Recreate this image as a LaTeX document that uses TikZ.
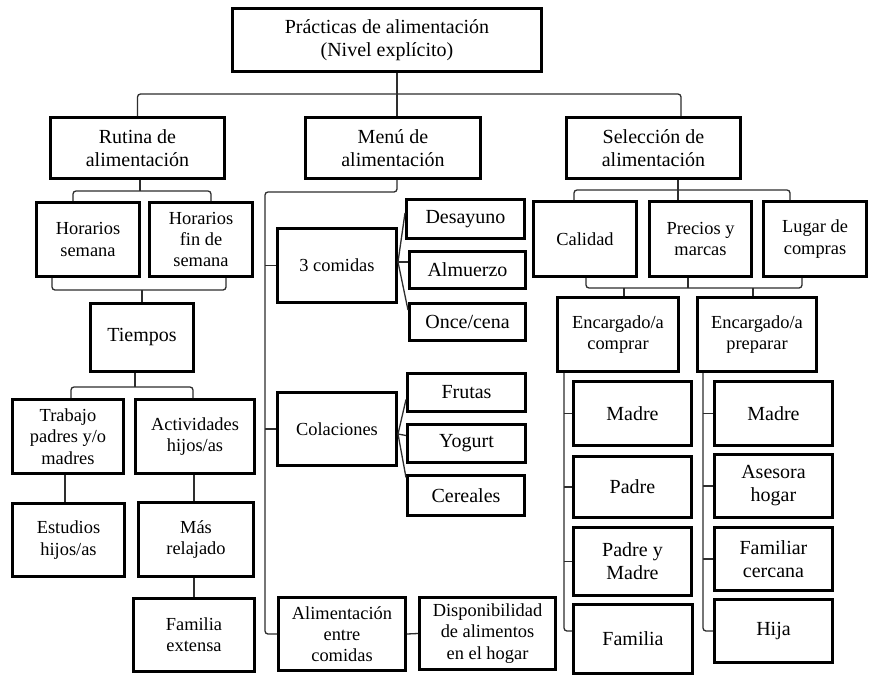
\documentclass[tikz,border=0pt]{standalone}
\usepackage{fontspec}
\setmainfont{Liberation Serif}
\newcommand\mkbox[7]{\node[#1, minimum width={(#5-#3-3)*1pt}, minimum height={(#6-#4-3)*1pt}] (#2) at ({(#3+#5)/2},{(#4+#6)/2}) {#7};}
\tikzset{
  box/.style={draw=black, line width=3pt, inner sep=1pt, align=center, fill=white},
  big/.style={box, font=\fontsize{20}{23}\selectfont},
  small/.style={box, font=\fontsize{18.4}{21.3}\selectfont},
  conn/.style={draw=black!82, line width=1.3pt},
  rc/.style={rounded corners=3pt}
}
\begin{document}
\begin{tikzpicture}[x=1pt,y=-1pt]
\useasboundingbox[fill=white] (0,0) rectangle (873,678);
% level 0/1
\mkbox{big}{root}{231}{7}{543}{73}{Prácticas de alimentación\\(Nivel explícito)}
\mkbox{big}{rut}{49}{116}{226}{180}{Rutina de\\alimentación}
\mkbox{big}{menu}{304}{116}{482}{180}{Menú de\\alimentación}
\mkbox{big}{sel}{565}{116}{742}{180}{Selección de\\alimentación}
% rutina branch
\mkbox{small}{hs}{35}{201}{141}{278}{Horarios\\semana}
\mkbox{small}{hf}{148}{201}{254}{278}{Horarios\\fin de\\semana}
\mkbox{big}{tiem}{89}{302}{195}{373}{Tiempos}
\mkbox{small}{trab}{11}{398}{125}{475}{Trabajo\\padres y/o\\madres}
\mkbox{small}{act}{134}{398}{256}{475}{Actividades\\hijos/as}
\mkbox{small}{est}{11}{502}{126}{578}{Estudios\\hijos/as}
\mkbox{small}{mas}{137}{501}{255}{578}{Más\\relajado}
\mkbox{small}{fam}{132}{597}{256}{673}{Familia\\extensa}
% menu branch
\mkbox{small}{com3}{276}{227}{398}{304}{3 comidas}
\mkbox{big}{des}{405}{198}{526}{240}{Desayuno}
\mkbox{big}{alm}{408}{250}{527}{290}{Almuerzo}
\mkbox{big}{once}{408}{302}{527}{342}{Once/cena}
\mkbox{small}{col}{276}{391}{398}{467}{Colaciones}
\mkbox{big}{fru}{406}{372}{527}{413}{Frutas}
\mkbox{big}{yog}{406}{423}{527}{464}{Yogurt}
\mkbox{big}{cer}{406}{474}{526}{517}{Cereales}
\mkbox{small}{ali}{277}{596}{407}{672}{Alimentación\\entre\\comidas}
\mkbox{small}{disp}{418}{596}{557}{671}{Disponibilidad\\de alimentos\\en el hogar}
% seleccion branch
\mkbox{small}{cal}{532}{200}{638}{278}{Calidad}
\mkbox{small}{pre}{648}{200}{753}{278}{Precios y\\marcas}
\mkbox{small}{lug}{762}{200}{868}{278}{Lugar de\\compras}
\mkbox{small}{ecom}{556}{296}{680}{373}{Encargado/a\\comprar}
\mkbox{small}{eprep}{696}{296}{818}{373}{Encargado/a\\preparar}
\mkbox{big}{ma1}{572}{380}{693}{447}{Madre}
\mkbox{big}{pa1}{572}{455}{693}{519}{Padre}
\mkbox{big}{pm}{572}{526}{693}{597}{Padre y\\Madre}
\mkbox{big}{fa1}{572}{603}{694}{675}{Familia}
\mkbox{big}{ma2}{713}{380}{834}{447}{Madre}
\mkbox{big}{ase}{713}{453}{834}{519}{Asesora\\hogar}
\mkbox{big}{fc}{713}{526}{834}{592}{Familiar\\cercana}
\mkbox{big}{hija}{713}{598}{834}{664}{Hija}
% connectors: top
\draw[conn] ([xshift=10pt]root.south) -- ([xshift=4pt]menu.north);
\draw[conn,rc] (rut.north) -- ++(0,-22) -| ([xshift=27.5pt]sel.north);
% rutina
\draw[conn] ([xshift=2.5pt]rut.south) -- ++(0,11);
\draw[conn,rc] ([xshift=-15pt]hs.north) -- ++(0,-10) -| ([xshift=10pt]hf.north);
\draw[conn,rc] ([xshift=-36pt]hs.south) -- ++(0,12) -| ([xshift=25pt]hf.south);
\draw[conn] (tiem.north) -- ++(0,-12);
\draw[conn] ([xshift=-7pt]tiem.south) -- ++(0,14);
\draw[conn,rc] ([xshift=3pt]trab.north) -- ++(0,-11) -| ([xshift=-2pt]act.north);
\draw[conn] ([xshift=-3pt]trab.south) -- ([xshift=-3.5pt]est.north);
\draw[conn] ([xshift=-1pt]act.south) -- ([xshift=-2pt]mas.north);
\draw[conn] ([xshift=-2pt]mas.south) -- (fam.north);
% menu
\draw[conn,rc] ([xshift=4pt]menu.south) -- ++(0,12) -| ([xshift=-12pt]ali.west) -- (ali.west);
\draw[conn] (com3.west) -- ++(-11,0);
\draw[conn] (col.west) -- ++(-11,0);
\draw[conn] ([yshift=3.5pt]com3.east) -- ([yshift=6pt]des.west);
\draw[conn] ([yshift=3.5pt]com3.east) -- ([yshift=8pt]alm.west);
\draw[conn] ([yshift=3.5pt]com3.east) -- ([yshift=12pt]once.west);
\draw[conn] ([yshift=-5pt]col.east) -- ([yshift=-7pt]fru.west);
\draw[conn] ([yshift=-5pt]col.east) -- ([yshift=8pt]yog.west);
\draw[conn] ([yshift=-5pt]col.east) -- ([yshift=18pt]cer.west);
\draw[conn] (ali.east) -- (disp.west);
% seleccion
\draw[conn] ([xshift=24.5pt]sel.south) -- ([xshift=-22.5pt]pre.north);
\draw[conn,rc] ([xshift=-11pt]cal.north) -- ++(0,-10) -| ([xshift=-25pt]lug.north);
\draw[conn,rc] ([xshift=1pt]cal.south) -- ++(0,10) -| ([xshift=-13pt]lug.south);
\draw[conn] ([xshift=-12.5pt]pre.south) -- ++(0,10);
\draw[conn] ([xshift=6pt]ecom.north) -- ++(0,-8);
\draw[conn] ([xshift=-4pt]eprep.north) -- ++(0,-8);
\draw[conn,rc] ([xshift=8pt]ecom.south west) |- ([yshift=8pt]fa1.west);
\draw[conn] (ma1.west) -- ++(-8,0);
\draw[conn] (pa1.west) -- ++(-8,0);
\draw[conn] (pm.west) -- ++(-8,0);
\draw[conn,rc] ([xshift=7pt]eprep.south west) |- (hija.west);
\draw[conn] (ma2.west) -- ++(-10,0);
\draw[conn] (ase.west) -- ++(-10,0);
\draw[conn] (fc.west) -- ++(-10,0);
\end{tikzpicture}
\end{document}
